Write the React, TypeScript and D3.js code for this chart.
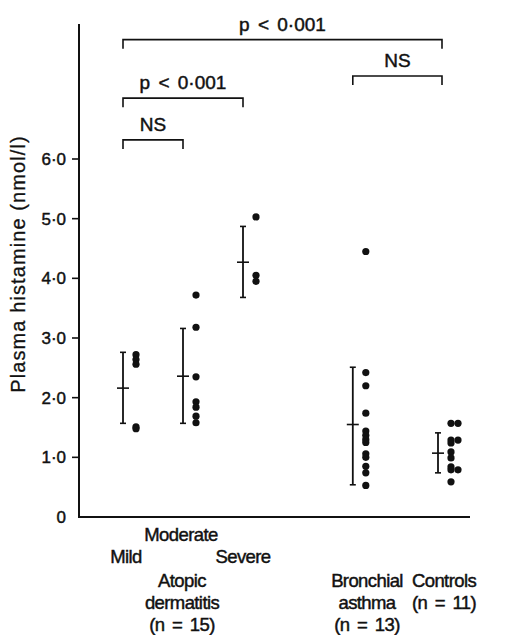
import React from "react";
import * as d3 from "d3";

const groups = ["Mild", "Moderate", "Severe", "Bronchial asthma", "Controls"];
const groupPos = [1, 2, 3, 4.83, 6.25];
const means = [2.16, 2.36, 4.27, 1.55, 1.07];
const upper = [2.76, 3.16, 4.87, 2.51, 1.41];
const lower = [1.57, 1.57, 3.68, 0.54, 0.74];

const mildDots = [2.72, 2.64, 2.56, 1.51, 1.48];
const moderateDots = [3.72, 3.18, 2.35, 1.93, 1.84, 1.69, 1.58];
const severeDots = [5.03, 4.05, 3.95];
const bronchialDots = [4.45, 2.42, 2.2, 1.74, 1.44, 1.37, 1.3, 1.25, 1.06, 1.0, 0.85, 0.74, 0.53];
const controlDots = [1.57, 1.57, 1.29, 1.29, 1.24, 1.09, 0.99, 0.84, 0.79, 0.79, 0.59];
const controlCols = [0, 1, 0, 1, 0, 0, 0, 0, 0, 1, 0];

const yTicks = [0, 1, 2, 3, 4, 5, 6];
const yTickLabels = ["0", "1·0", "2·0", "3·0", "4·0", "5·0", "6·0"];

const bracketFrom = ["Mild", "Bronchial asthma", "Mild", "Mild"];
const bracketTo = ["Controls", "Controls", "Severe", "Moderate"];
const bracketLevel = [8.0, 7.39, 7.02, 6.32];
const bracketLabel = ["p < 0·001", "NS", "p < 0·001", "NS"];

const W = 511;
const H = 635;
const FONT = "'Liberation Sans', Arial, Helvetica, sans-serif";

export default function App() {
  const y = d3.scaleLinear().domain([0, 6]).range([517, 159]);
  const x = d3.scaleLinear().domain([1, 2]).range([123, 183]);
  const axisX = 79;
  const dotOff = 13;
  const colGap = 7;
  const r = 3.6;

  const dotSets = [
    mildDots.map((v) => ({ v, c: 0 })),
    moderateDots.map((v) => ({ v, c: 0 })),
    severeDots.map((v) => ({ v, c: 0 })),
    bronchialDots.map((v) => ({ v, c: 0 })),
    controlDots.map((v, i) => ({ v, c: controlCols[i] })),
  ];

  const gx = (name: string) => x(groupPos[groups.indexOf(name)]);

  const textStyle = {
    fontFamily: FONT,
    fontSize: 17,
    fill: "#111",
    stroke: "#111",
    strokeWidth: 0.45,
  } as const;
  const catStyle = { ...textStyle, fontSize: 18.5, letterSpacing: -0.6, wordSpacing: 3 } as const;

  return (
    <svg
      width={W}
      height={H}
      style={{ position: "absolute", left: 0, top: 0, display: "block", background: "#fff" }}
    >
      {/* axes */}
      <line x1={axisX} x2={axisX} y1={24} y2={y(0)} stroke="#111" strokeWidth={2} />
      <line x1={axisX - 1} x2={470} y1={y(0)} y2={y(0)} stroke="#111" strokeWidth={2} />
      {yTicks.map((t, i) => (
        <g key={t}>
          {t > 0 && <line x1={axisX - 7} x2={axisX} y1={y(t)} y2={y(t)} stroke="#111" strokeWidth={1.6} />}
          <text x={66} y={y(t)} dy="0.36em" textAnchor="end" {...textStyle} fontSize={17}>
            {yTickLabels[i]}
          </text>
        </g>
      ))}
      <text
        transform={`translate(25,${264}) rotate(-90)`}
        textAnchor="middle"
        {...textStyle}
        fontSize={20}
        letterSpacing={1.1}
        strokeWidth={0.3}
      >
        Plasma histamine (nmol/l)
      </text>

      {/* error bars */}
      {groups.map((g, i) => {
        const cx = x(groupPos[i]);
        return (
          <g key={g} stroke="#111">
            <line x1={cx} x2={cx} y1={y(upper[i])} y2={y(lower[i])} strokeWidth={1.8} />
            <line x1={cx - 3} x2={cx + 3} y1={y(upper[i])} y2={y(upper[i])} strokeWidth={1.6} />
            <line x1={cx - 3} x2={cx + 3} y1={y(lower[i])} y2={y(lower[i])} strokeWidth={1.6} />
            <line x1={cx - 6} x2={cx + 6} y1={y(means[i])} y2={y(means[i])} strokeWidth={1.6} />
          </g>
        );
      })}

      {/* dots */}
      {dotSets.map((set, gi) =>
        set.map((d, j) => (
          <circle
            key={`${gi}-${j}`}
            cx={x(groupPos[gi]) + dotOff + d.c * colGap}
            cy={y(d.v)}
            r={r}
            fill="#111"
          />
        ))
      )}

      {/* brackets */}
      {bracketFrom.map((f, i) => {
        const x1 = gx(f);
        const x2 = gx(bracketTo[i]) + (bracketTo[i] === "Controls" ? 4 : 0);
        const yy = y(bracketLevel[i]);
        return (
          <g key={i}>
            <path
              d={`M${x1},${yy + 9}V${yy}H${x2}V${yy + 9}`}
              fill="none"
              stroke="#111"
              strokeWidth={1.6}
            />
            <text
              x={(x1 + x2) / 2}
              y={yy - 9}
              textAnchor="middle"
              {...textStyle}
              fontSize={19}
              wordSpacing={3}
            >
              {bracketLabel[i]}
            </text>
          </g>
        );
      })}

      {/* category labels */}
      <text x={181} y={541} textAnchor="middle" {...catStyle}>Moderate</text>
      <text x={126} y={563} textAnchor="middle" {...catStyle}>Mild</text>
      <text x={243} y={563} textAnchor="middle" {...catStyle}>Severe</text>

      <text x={182} y={587} textAnchor="middle" {...catStyle}>Atopic</text>
      <text x={182} y={609} textAnchor="middle" {...catStyle}>dermatitis</text>
      <text x={182} y={631} textAnchor="middle" {...catStyle}>(n = 15)</text>

      <text x={367} y={587} textAnchor="middle" {...catStyle}>Bronchial</text>
      <text x={367} y={609} textAnchor="middle" {...catStyle}>asthma</text>
      <text x={367} y={631} textAnchor="middle" {...catStyle}>(n = 13)</text>

      <text x={444} y={587} textAnchor="middle" {...catStyle}>Controls</text>
      <text x={444} y={609} textAnchor="middle" {...catStyle}>(n = 11)</text>
    </svg>
  );
}
